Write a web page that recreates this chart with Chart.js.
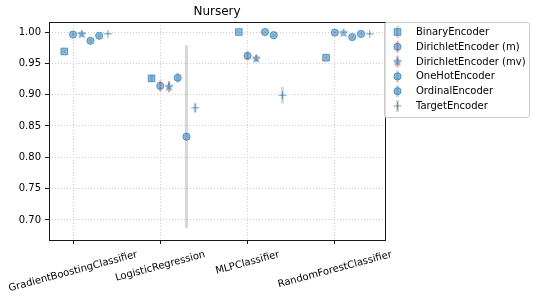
<!DOCTYPE html>
<html>
<head>
<meta charset="utf-8">
<script src="https://cdn.jsdelivr.net/npm/chart.js@4/dist/chart.umd.min.js"></script>
<style>
  html, body { margin: 0; padding: 0; background: #fff; }
  #wrap { width: 536px; height: 298px; }
</style>
</head>
<body>
<div id="wrap"><canvas id="c" width="536" height="298"></canvas></div>
<script>
// ---- data ----
const categories = ['GradientBoostingClassifier', 'LogisticRegression', 'MLPClassifier', 'RandomForestClassifier'];
const encoders = ['BinaryEncoder', 'DirichletEncoder (m)', 'DirichletEncoder (mv)', 'OneHotEncoder', 'OrdinalEncoder', 'TargetEncoder'];
const yTicks = [0.70, 0.75, 0.80, 0.85, 0.90, 0.95, 1.00];

const binaryMean   = [0.969, 0.926, 1.000, 0.959];
const binaryErr    = [0.002, 0.006, 0.001, 0.002];
const dirMMean     = [0.996, 0.914, 0.962, 0.999];
const dirMErr      = [0.002, 0.009, 0.007, 0.001];
const dirMvMean    = [0.997, 0.913, 0.958, 0.999];
const dirMvErr     = [0.002, 0.009, 0.005, 0.001];
const oneHotMean   = [0.986, 0.927, 1.000, 0.992];
const oneHotErr    = [0.003, 0.008, 0.001, 0.003];
const ordinalMean  = [0.994, 0.833, 0.995, 0.997];
const ordinalErr   = [0.003, 0.146, 0.002, 0.002];
const targetMean   = [0.997, 0.879, 0.899, 0.997];
const targetErr    = [0.001, 0.008, 0.013, 0.001];

const means = [binaryMean, dirMMean, dirMvMean, oneHotMean, ordinalMean, targetMean];
const errs  = [binaryErr, dirMErr, dirMvErr, oneHotErr, ordinalErr, targetErr];

// ---- styles ----
const FONT = '"DejaVu Sans", "Liberation Sans", sans-serif';
const dodge = [-0.1, 0, 0.1, 0.2, 0.3, 0.4];
const fill = 'rgba(31,119,180,0.5)';
const edge = 'rgba(31,119,180,0.65)';
const errGray = 'rgba(150,150,150,0.38)';
const errRed = 'rgba(255,0,0,0.4)';

function makeStar() {
  const c = document.createElement('canvas');
  c.width = 10; c.height = 10;
  const g = c.getContext('2d');
  const cx = 5, cy = 5.3, R = 4.2, r = 1.8;
  g.beginPath();
  for (let i = 0; i < 10; i++) {
    const rad = i % 2 === 0 ? R : r;
    const a = -Math.PI / 2 + i * Math.PI / 5;
    const px = cx + rad * Math.cos(a), py = cy + rad * Math.sin(a);
    if (i === 0) g.moveTo(px, py); else g.lineTo(px, py);
  }
  g.closePath();
  g.fillStyle = fill; g.fill();
  g.strokeStyle = edge; g.lineWidth = 0.8; g.stroke();
  return c;
}
const star = makeStar();

const markerStyles = [
  { pointStyle: 'rect', radius: 4.7, errColor: errGray, errWidth: 3 },
  { pointStyle: 'circle', radius: 3.6, errColor: errRed, errWidth: 2 },
  { pointStyle: star, radius: 4.2, errColor: errRed, errWidth: 2 },
  { pointStyle: 'circle', radius: 3.6, errColor: errGray, errWidth: 3 },
  { pointStyle: 'circle', radius: 3.6, errColor: errGray, errWidth: 3 },
  { pointStyle: 'cross', radius: 4, errColor: errGray, errWidth: 3 },
];

const datasets = encoders.map((name, k) => ({
  label: name,
  data: categories.map((c, i) => ({ x: i + dodge[k], y: means[k][i] })),
  errors: errs[k],
  pointStyle: markerStyles[k].pointStyle,
  pointRadius: markerStyles[k].radius,
  pointHoverRadius: markerStyles[k].radius,
  backgroundColor: fill,
  borderColor: edge,
  borderWidth: 1,
  errColor: markerStyles[k].errColor,
  errWidth: markerStyles[k].errWidth,
  showLine: false,
}));

const errorBarPlugin = {
  id: 'errorBars',
  beforeDatasetsDraw(chart) {
    const ctx = chart.ctx;
    const xs = chart.scales.x, ys = chart.scales.y;
    chart.data.datasets.forEach(ds => {
      ds.data.forEach((p, i) => {
        const e = ds.errors[i];
        const x = xs.getPixelForValue(p.x);
        const y1 = ys.getPixelForValue(p.y - e);
        const y2 = ys.getPixelForValue(p.y + e);
        ctx.save();
        ctx.strokeStyle = ds.errColor;
        ctx.lineWidth = ds.errWidth;
        ctx.beginPath();
        ctx.moveTo(x, y1); ctx.lineTo(x, y2);
        ctx.stroke();
        ctx.restore();
      });
    });
  }
};

const decorPlugin = {
  id: 'decor',
  afterDraw(chart) {
    const ctx = chart.ctx;
    const a = chart.chartArea;
    // frame
    ctx.save();
    ctx.strokeStyle = '#1a1a1a';
    ctx.lineWidth = 1;
    ctx.strokeRect(Math.round(a.left) + 0.5, Math.round(a.top) + 0.5, Math.round(a.right - a.left), Math.round(a.bottom - a.top));
    ctx.restore();

    // title
    ctx.save();
    ctx.font = '12px ' + FONT;
    ctx.fillStyle = '#000';
    ctx.textAlign = 'center';
    ctx.textBaseline = 'middle';
    ctx.fillText('Nursery', (a.left + a.right) / 2, 12);
    ctx.restore();

    // x tick labels (rotated 15°, centered on tick)
    const xs = chart.scales.x;
    const ang = 15 * Math.PI / 180;
    ctx.save();
    ctx.font = '10px ' + FONT;
    ctx.fillStyle = '#000';
    categories.forEach((name, i) => {
      const px = xs.getPixelForValue(i);
      const w = ctx.measureText(name).width;
      const h = w * Math.sin(ang) + 11 * Math.cos(ang);
      const cy = a.bottom + 9 + h / 2;
      ctx.save();
      ctx.translate(px, cy);
      ctx.rotate(-ang);
      ctx.textAlign = 'center';
      ctx.textBaseline = 'middle';
      ctx.fillText(name, 0, 0);
      ctx.restore();
    });
    ctx.restore();

    // legend
    const lx = 384.5, ly = 22.5, lw = 145, lh = 95, rr = 2.5;
    ctx.save();
    ctx.beginPath();
    ctx.moveTo(lx + rr, ly);
    ctx.lineTo(lx + lw - rr, ly); ctx.quadraticCurveTo(lx + lw, ly, lx + lw, ly + rr);
    ctx.lineTo(lx + lw, ly + lh - rr); ctx.quadraticCurveTo(lx + lw, ly + lh, lx + lw - rr, ly + lh);
    ctx.lineTo(lx + rr, ly + lh); ctx.quadraticCurveTo(lx, ly + lh, lx, ly + lh - rr);
    ctx.lineTo(lx, ly + rr); ctx.quadraticCurveTo(lx, ly, lx + rr, ly);
    ctx.closePath();
    ctx.fillStyle = 'rgba(255,255,255,0.85)';
    ctx.fill();
    ctx.strokeStyle = '#cccccc';
    ctx.lineWidth = 1;
    ctx.stroke();
    ctx.restore();

    chart.data.datasets.forEach((ds, k) => {
      const ry = 32 + k * 14.8;
      const mx = 397.5;
      ctx.save();
      ctx.strokeStyle = ds.errColor;
      ctx.lineWidth = ds.errWidth;
      ctx.beginPath();
      ctx.moveTo(mx, ry - 6); ctx.lineTo(mx, ry + 6);
      ctx.stroke();
      ctx.restore();
      ctx.save();
      ctx.fillStyle = ds.backgroundColor;
      ctx.strokeStyle = ds.borderColor;
      ctx.lineWidth = ds.borderWidth;
      Chart.helpers.drawPoint(ctx, { pointStyle: ds.pointStyle, radius: ds.pointRadius, rotation: 0, borderWidth: ds.borderWidth }, mx, ry);
      ctx.restore();
      ctx.save();
      ctx.font = '10px ' + FONT;
      ctx.fillStyle = '#000';
      ctx.textAlign = 'left';
      ctx.textBaseline = 'middle';
      ctx.fillText(ds.label, 416, ry + 0.5);
      ctx.restore();
    });
  }
};

new Chart(document.getElementById('c'), {
  type: 'scatter',
  data: { datasets },
  options: {
    responsive: false,
    animation: false,
    devicePixelRatio: 1,
    layout: { padding: { left: 0, right: 151, top: 22, bottom: 0 } },
    plugins: {
      legend: { display: false },
      title: { display: false },
      tooltip: { enabled: false },
    },
    elements: { point: { hitRadius: 0 } },
    scales: {
      x: {
        type: 'linear',
        min: -0.275,
        max: 3.575,
        afterBuildTicks: s => { s.ticks = categories.map((c, i) => ({ value: i })); },
        afterFit: s => { s.height = 58; },
        ticks: { display: false },
        grid: { color: '#cfcfcf', lineWidth: 1, tickColor: '#1a1a1a', tickLength: 4, tickWidth: 1, drawTicks: true },
        border: { display: false, dash: [1, 2] },
      },
      y: {
        type: 'linear',
        min: 0.668,
        max: 1.016,
        afterBuildTicks: s => { s.ticks = yTicks.map(v => ({ value: v })); },
        afterFit: s => { s.width = 49; },
        ticks: {
          callback: v => Number(v).toFixed(2),
          font: { family: FONT, size: 10 },
          color: '#000',
          padding: 4,
        },
        grid: { color: '#cfcfcf', lineWidth: 1, tickColor: '#1a1a1a', tickLength: 4, tickWidth: 1, drawTicks: true },
        border: { display: false, dash: [1, 2] },
      },
    },
  },
  plugins: [errorBarPlugin, decorPlugin],
});
</script>
</body>
</html>
